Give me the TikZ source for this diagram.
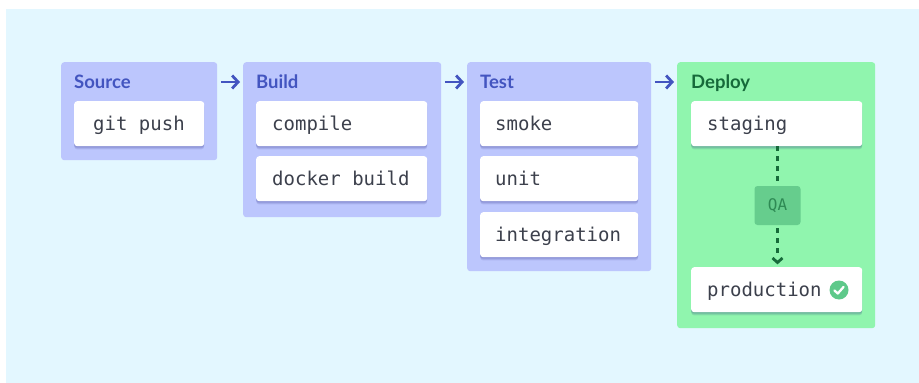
\documentclass[tikz,border=0pt]{standalone}
\usepackage{fontspec}
\setmainfont{Lato}
\setmonofont{DejaVu Sans Mono}
\usetikzlibrary{calc,shadows,arrows.meta}
\definecolor{bgc}{HTML}{E3F7FF}
\definecolor{panelc}{HTML}{BCC6FD}
\definecolor{deployc}{HTML}{90F5AE}
\definecolor{headc}{HTML}{4355C0}
\definecolor{deployh}{HTML}{166A3A}
\definecolor{codec}{HTML}{3C404C}
\definecolor{qac}{HTML}{66CD8D}
\definecolor{qat}{HTML}{2E8A54}
\definecolor{checkc}{HTML}{5EC98A}
\tikzset{
  x=1pt,y=-1pt,
  panel/.style={fill=panelc,rounded corners=3pt,anchor=north west,inner sep=0pt},
  deploypanel/.style={panel,fill=deployc},
  heading/.style={anchor=base west,inner sep=0pt,font=\fontsize{18.5}{22}\selectfont\bfseries,text=headc},
  softshadow/.style={shadow xshift=0pt,shadow yshift=-#1,opacity=.09,fill=black!60!blue},
  job/.style={fill=white,rounded corners=3pt,anchor=north west,inner sep=0pt,
    drop shadow={softshadow=3.2pt},drop shadow={softshadow=2.2pt},drop shadow={softshadow=1.2pt}},
  jobtext/.style={anchor=base west,inner sep=0pt,font=\fontsize{19}{22}\selectfont\ttfamily,text=codec},
  flow/.style={draw=headc,line width=2.8pt,shorten <=3.5pt,shorten >=3pt,
    -{Straight Barb[length=6pt,width=13pt,line width=2.8pt]}},
  gate/.style={draw=deployh,line width=3pt,dash pattern=on 5pt off 5pt},
}
\begin{document}
\begin{tikzpicture}
\useasboundingbox (0,0) rectangle (919,383);
\fill[white] (0,0) rectangle (919,383);
\fill[bgc] (6,9) rectangle (919,383);

\node[panel,minimum width=156pt,minimum height=98pt] (source) at (61,62) {};
\node[panel,minimum width=198pt,minimum height=155pt] (build) at (243,62) {};
\node[panel,minimum width=184pt,minimum height=209pt] (test) at (467,62) {};
\node[deploypanel,minimum width=198pt,minimum height=266pt] (deploy) at (677,62) {};

\node[heading] (hsource) at (74,88) {Source};
\node[heading] (hbuild) at (256,88) {Build};
\node[heading] (htest) at (480,88) {Test};
\node[heading,text=deployh] (hdeploy) at (691,88) {Deploy};

\node[job,minimum width=130pt,minimum height=45pt] (gitpush) at (74,101) {};
\node[job,minimum width=171pt,minimum height=45pt] (compile) at (256,101) {};
\node[job,minimum width=171pt,minimum height=45pt] (docker) at (256,156) {};
\node[job,minimum width=158pt,minimum height=45pt] (smoke) at (480,101) {};
\node[job,minimum width=158pt,minimum height=45pt] (unit) at (480,156) {};
\node[job,minimum width=158pt,minimum height=45pt] (integration) at (480,212) {};
\node[job,minimum width=171pt,minimum height=45pt] (staging) at (691,101) {};
\node[job,minimum width=171pt,minimum height=45pt] (production) at (691,267) {};

\node[jobtext] (tgit) at (93,130) {git push};
\node[jobtext] (tcompile) at (272,130) {compile};
\node[jobtext] (tdocker) at (272,185) {docker build};
\node[jobtext] (tsmoke) at (495,130) {smoke};
\node[jobtext] (tunit) at (495,185) {unit};
\node[jobtext] (tintegration) at (495,241) {integration};
\node[jobtext] (tstaging) at (707,130) {staging};
\node[jobtext] (tproduction) at (707,296) {production};

\node[fill=qac,rounded corners=3pt,minimum width=46pt,minimum height=39pt,inner sep=0pt,
  text=qat,font=\fontsize{16}{18}\selectfont\ttfamily] (qa) at (777.5,205.5) {QA};

\node[circle,fill=checkc,minimum size=19pt,inner sep=0pt] (check) at (839,290) {};
\draw[white,line width=2.3pt,line cap=round,line join=round]
  ($(check.center)+(-4.5,0.5)$) -- ($(check.center)+(-1.2,3.5)$) -- ($(check.center)+(4.5,-3)$);

\draw[flow] ($(source.north east)+(0,20)$) -- ($(build.north west)+(0,20)$);
\draw[flow] ($(build.north east)+(0,20)$) -- ($(test.north west)+(0,20)$);
\draw[flow] ($(test.north east)+(0,20)$) -- ($(deploy.north west)+(0,20)$);

\draw[gate,shorten >=5pt] (staging.south -| qa) -- (qa.north);
\draw[gate,shorten <=3pt,shorten >=10pt] (qa.south) -- (production.north -| qa);
\draw[deployh,line width=2.8pt,line join=miter]
  ($(production.north -| qa)+(-5,-9)$) -- ($(production.north -| qa)+(0,-4.5)$) -- ($(production.north -| qa)+(5,-9)$);
\end{tikzpicture}
\end{document}
